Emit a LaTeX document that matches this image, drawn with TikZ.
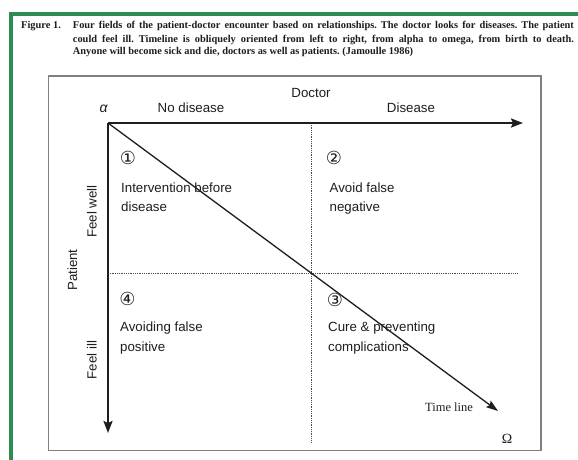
\documentclass[tikz,border=0pt]{standalone}
\usepackage{fontspec}
\setmainfont{Liberation Sans}
\newfontfamily\capserif{Liberation Serif}
\newfontfamily\dejavu{DejaVu Sans}
\usetikzlibrary{arrows.meta}
\definecolor{framegreen}{RGB}{46,139,82}
\definecolor{ink}{RGB}{30,30,30}
\begin{document}
\frenchspacing
\begin{tikzpicture}[x=1pt,y=-1pt,
  lbl/.style={font=\fontsize{13.3}{20}\selectfont, inner sep=0pt, text=ink},
  num/.style={font=\dejavu\fontsize{18}{18}\selectfont, inner sep=0pt, text=ink},
  captext/.style={font=\capserif\bfseries\fontsize{10.4}{13}\selectfont, inner sep=0pt, anchor=base west, text=ink},
  serif/.style={inner sep=0pt, text=ink},
  axis/.style={line width=2.2pt, draw=ink, -{Stealth[length=12pt,width=9pt,inset=2pt]}},
  timeline/.style={line width=1.3pt, draw=ink, -{Stealth[length=12pt,width=8pt,inset=2pt]}},
  divider/.style={line width=0.8pt, draw=black!70, densely dotted},
  greenrule/.style={line width=4pt, draw=framegreen},
  innerbox/.style={line width=1.3pt, draw=black!50}]
% canvas
\fill[white] (0,0) rectangle (578,460);
\useasboundingbox (0,0) rectangle (578,460);
% green frame
\draw[greenrule] (9,13.7) -- (578,13.7);
\draw[greenrule] (10.8,11.7) -- (10.8,460);
% caption
\node[captext] (fig) at (21,29) {Figure 1.};
\node[captext] (c1) at (72.7,29) {\makebox[501pt][s]{Four fields of the patient-doctor encounter based on relationships. The doctor looks for diseases. The patient}};
\node[captext] (c2) at (72.7,42.3) {\makebox[501pt][s]{could feel ill. Timeline is obliquely oriented from left to right, from alpha to omega, from birth to death.}};
\node[captext] (c3) at (72.7,55) {Anyone will become sick and die, doctors as well as patients. (Jamoulle 1986)};
% inner box
\draw[innerbox] (48.3,76) rectangle (541,450.7);
% coordinates
\coordinate (O) at (108,123);
\coordinate (X) at (523,123);
\coordinate (Y) at (108,433);
\coordinate (T) at (498,411);
\coordinate (Vt) at (311,123);
\coordinate (Vb) at (311,443);
\coordinate (Hl) at (108,273);
\coordinate (Hr) at (518,273);
% dividers
\draw[divider] (Vt) -- (Vb);
\draw[divider] (Hl) -- (Hr);
% axes
\draw[axis] (O) -- (X);
\draw[axis] (O) -- (Y);
\draw[timeline] (O) -- (T);
% axis labels
\node[lbl, anchor=base, font=\itshape\fontsize{14}{14}\selectfont] (alpha) at (103.5,112) {α};
\node[lbl, anchor=base] (nod) at (191,112.5) {No disease};
\node[lbl, anchor=base] (doc) at (311,97) {Doctor};
\node[lbl, anchor=base] (dis) at (411,112.5) {Disease};
\node[lbl, anchor=base, rotate=90] (fw) at (96.5,211.5) {Feel well};
\node[lbl, anchor=base, rotate=90] (pat) at (77,270) {Patient};
\node[lbl, anchor=base, rotate=90] (fi) at (96.5,360) {Feel ill};
% quadrant 1
\node[num] (n1) at (128,158) {①};
\node[lbl, anchor=base west] (q1a) at (121,192) {Intervention before};
\node[lbl, anchor=base west] (q1b) at (121,211.5) {disease};
% quadrant 2
\node[num] (n2) at (334,158) {②};
\node[lbl, anchor=base west] (q2a) at (329.5,192) {Avoid false};
\node[lbl, anchor=base west] (q2b) at (329.5,211.5) {negative};
% quadrant 4
\node[num] (n4) at (127.5,299) {④};
\node[lbl, anchor=base west] (q4a) at (120,331.5) {Avoiding false};
\node[lbl, anchor=base west] (q4b) at (120,351) {positive};
% quadrant 3
\node[num] (n3) at (335,300) {③};
\node[lbl, anchor=base west] (q3a) at (328,331.5) {Cure \& preventing};
\node[lbl, anchor=base west] (q3b) at (328,351) {complications};
% time line labels
\node[serif, anchor=base, font=\capserif\fontsize{12.5}{12.5}\selectfont] (tl) at (449,411.5) {Time line};
\node[serif, anchor=base, font=\capserif\fontsize{14}{14}\selectfont] (omega) at (507,443.5) {Ω};
\end{tikzpicture}
\end{document}
